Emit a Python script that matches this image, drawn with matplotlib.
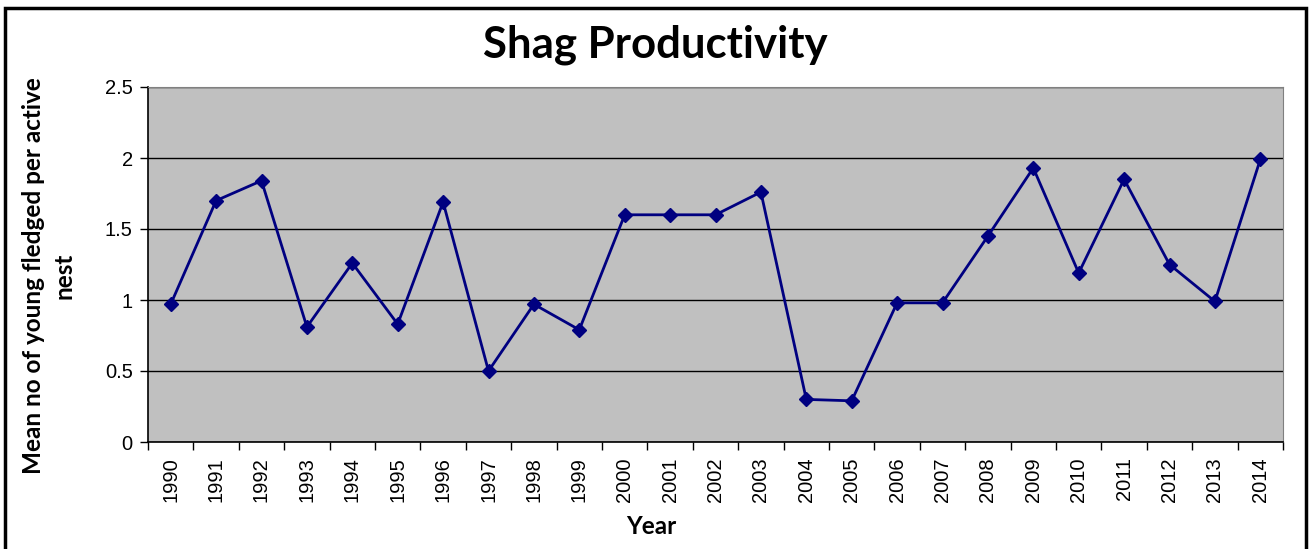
import matplotlib
matplotlib.use("Agg")
import matplotlib.pyplot as plt
import numpy as np
from matplotlib.patches import Rectangle

years = [str(y) for y in range(1990, 2015)]
productivity = [0.97, 1.70, 1.84, 0.81, 1.26, 0.83, 1.69, 0.50, 0.97, 0.79,
                1.60, 1.60, 1.60, 1.76, 0.30, 0.29, 0.98, 0.98, 1.45, 1.93,
                1.19, 1.85, 1.25, 0.99, 1.99]
y_ticks = [0, 0.5, 1, 1.5, 2, 2.5]
y_labels = ["0", "0.5", "1", "1.5", "2", "2.5"]

fig = plt.figure(figsize=(13.1, 5.49), dpi=100)
ax = fig.add_axes([148/1310, 107/549, (1283-148)/1310, (442-87)/549])
ax.set_facecolor("#c0c0c0")

x = np.arange(len(years))
ax.plot(x, productivity, color="#000080", lw=2, marker="D", ms=7.5, zorder=3)

ax.set_xlim(-0.5, len(years) - 0.5)
ax.set_ylim(0, 2.5)
ax.set_yticks(y_ticks)
ax.set_yticklabels(y_labels, family="Liberation Sans", fontsize=14.5)
ax.grid(axis="y", color="black", lw=1)
ax.set_axisbelow(True)

ax.set_xticks(x)
ax.set_xticklabels(years, rotation=90, family="Liberation Sans", fontsize=14.5)
ax.set_xticks(np.arange(-0.5, len(years)), minor=True)
ax.tick_params(axis="x", which="major", length=0, pad=11)
ax.tick_params(axis="x", which="minor", length=6, width=1)
ax.tick_params(axis="y", length=6, width=1, pad=5)

for s in ["top", "right"]:
    ax.spines[s].set_color("#808080")
for s in ["left", "bottom"]:
    ax.spines[s].set_color("black")
    ax.spines[s].set_linewidth(1.2)

fig.text(0.5, 1 - 45/549, "Shag Productivity", ha="center", va="center",
         family="Lato", weight="bold", fontsize=31.5)
fig.text(651/1310, 1 - 526/549, "Year", ha="center", va="center",
         family="Lato", weight="bold", fontsize=17.5)
fig.text(49/1310, 1 - 276/549, "Mean no of young fledged per active\nnest",
         ha="center", va="center", rotation=90, family="Lato", weight="bold",
         fontsize=17.5, linespacing=1.4)

fig.patches.append(Rectangle((5/1310, -0.05), 1301/1310, 1.05 - 8/549,
                             transform=fig.transFigure, fill=False,
                             edgecolor="black", lw=2.5, clip_on=False))

fig.savefig("out.png", dpi=100)
